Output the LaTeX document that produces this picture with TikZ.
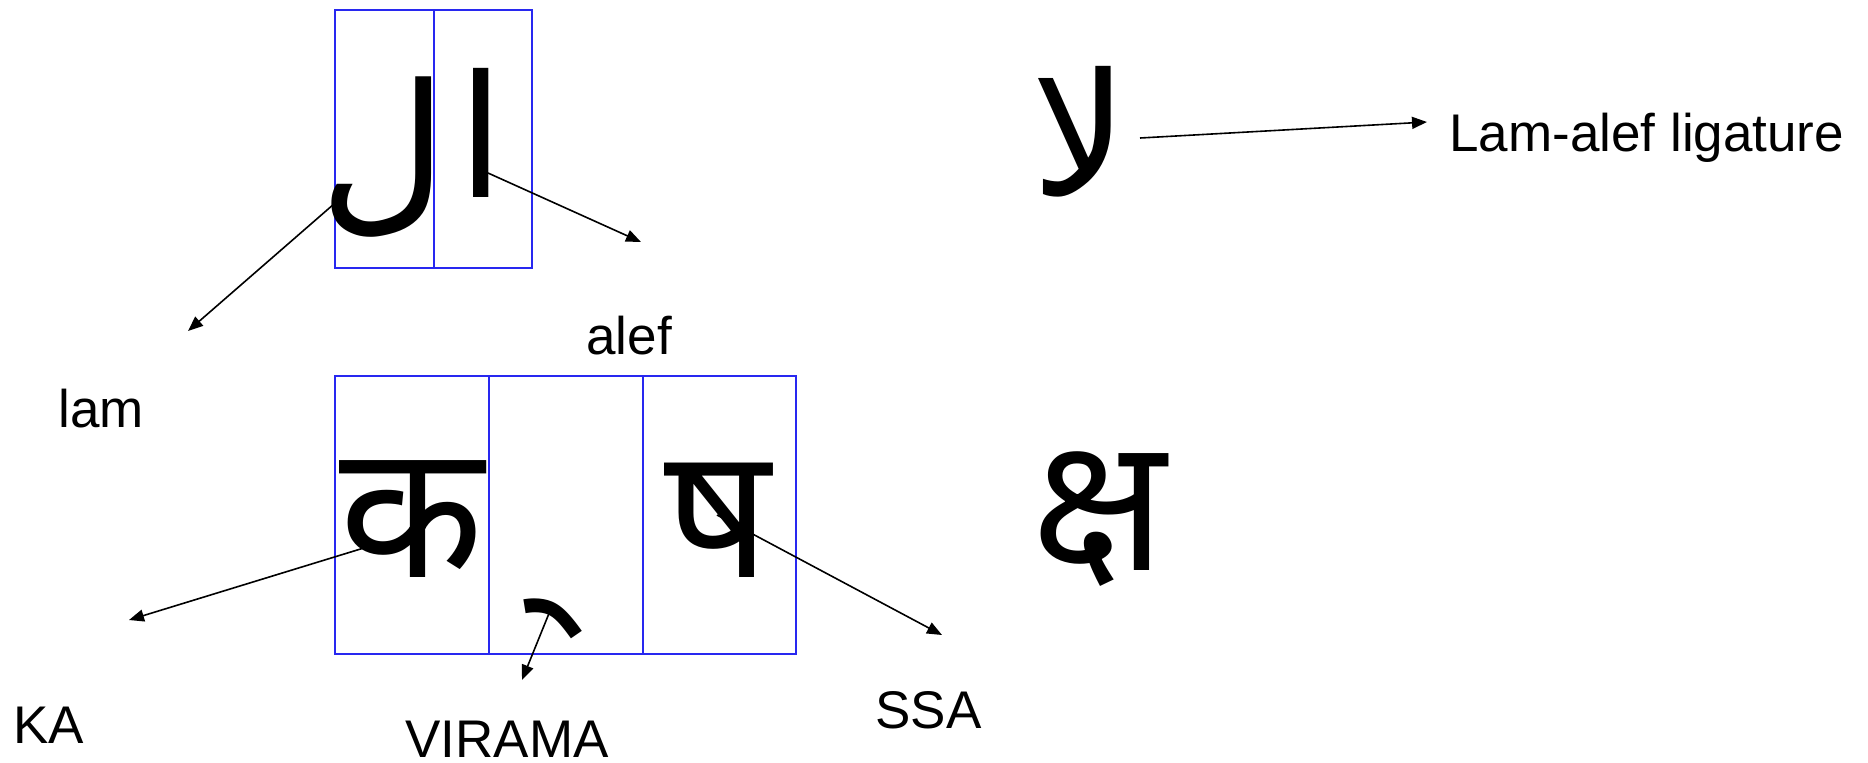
\documentclass[tikz,border=0pt]{standalone}
\usepackage{fontspec}
\setmainfont{Liberation Sans}
\newfontfamily\arabicfont[Script=Arabic]{DejaVu Sans}
\newfontfamily\devfont[Script=Devanagari]{Noto Sans}
\TeXXeTstate=1
\usetikzlibrary{arrows.meta}
\begin{document}
\begin{tikzpicture}[x=0.5pt,y=-0.5pt,
  cell/.style={draw={rgb,255:red,40;green,40;blue,240}, line width=1pt, inner sep=0pt, anchor=north west, minimum height=#1},
  lbl/.style={inner sep=0pt, anchor=base west, text depth=0pt, font=\fontsize{26.5}{30}\selectfont},
  arglyph/.style={inner sep=0pt, anchor=base, font=\fontsize{#1}{90}\selectfont\arabicfont},
  devglyph/.style={inner sep=0pt, anchor=base, font=\fontsize{#1}{100}\selectfont\devfont},
  pointer/.style={line width=0.8pt, -{Triangle[length=7.5pt,width=6pt]}}]
\useasboundingbox (0,0) rectangle (1868,762);
% cells
\node[cell=129pt, minimum width=49.5pt] (lamcell) at (334,9) {};
\node[cell=129pt, minimum width=49pt] (alefcell) at (433,9) {};
\node[cell=139pt, minimum width=77pt] (kacell) at (334,375) {};
\node[cell=139pt, minimum width=77pt] (vircell) at (488,375) {};
\node[cell=139pt, minimum width=76.5pt] (ssacell) at (642,375) {};
% glyphs
\node[arglyph=88] (lam) at (383,210) {\beginR ل\endR};
\node[arglyph=85] (alef) at (481,197) {\beginR ا\endR};
\node[arglyph=85] (lamalef) at (1080,195) {\beginR لا\endR};
\node[devglyph=94] (ka) at (412,577) {क};
\node[devglyph=94] (virama) at (533,591) {^^^^00a0^^^^094d};
\node[devglyph=92] (ssa) at (718,577) {ष};
\node[devglyph=94] (kssa) at (1099,570) {क्ष};
% labels
\node[lbl] (lamlbl) at (58,427) {lam};
\node[lbl] (aleflbl) at (586,354) {alef};
\node[lbl] (ligl) at (1449,151) {Lam-alef ligature};
\node[lbl] (kalbl) at (13,743) {KA};
\node[lbl] (virlbl) at (405,757) {VIRAMA};
\node[lbl] (ssalbl) at (875,728) {SSA};
% connector ends
\coordinate (lamS) at (342,197);
\coordinate (lamT) at (188,331);
\coordinate (alefS) at (488,173);
\coordinate (alefT) at (641,242);
\coordinate (ligS) at (1140,138);
\coordinate (ligT) at (1427,122);
\coordinate (kaS) at (367,547);
\coordinate (kaT) at (129,620);
\coordinate (virS) at (552,606);
\coordinate (virT) at (522,680);
\coordinate (ssaS) at (717,515);
\coordinate (ssaT) at (942,635);
\draw[pointer] (lamS) -- (lamT);
\draw[pointer] (alefS) -- (alefT);
\draw[pointer] (ligS) -- (ligT);
\draw[pointer] (kaS) -- (kaT);
\draw[pointer] (virS) -- (virT);
\draw[pointer] (ssaS) -- (ssaT);
\end{tikzpicture}
\end{document}
